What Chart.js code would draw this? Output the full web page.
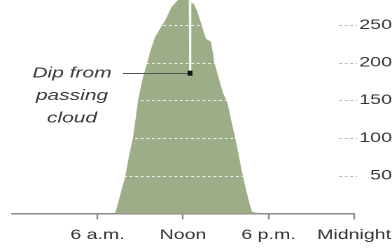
<!DOCTYPE html>
<html>
<head>
<meta charset="utf-8">
<script src="https://cdn.jsdelivr.net/npm/chart.js@4/dist/chart.umd.min.js"></script>
<style>
  html, body { margin: 0; padding: 0; background: #fff; }
  #c { display: block; }
</style>
</head>
<body>
<canvas id="c" width="280" height="249" style="width:392px;height:249px;"></canvas>
<script>
// Time of day (hours since midnight)
const hours = [0, 7.2, 7.3, 7.6, 7.93, 8.2, 8.49, 8.85, 9.15, 9.47, 9.75, 10.04, 10.45, 10.75, 11.2, 11.65, 11.9, 12.2, 12.4, 12.43, 12.55, 12.58, 12.75, 13.0, 13.3, 13.6, 13.75, 13.95, 14.05, 14.2, 14.5, 14.8, 15.1, 15.4, 15.65, 15.9, 16.15, 16.4, 16.7, 16.85, 17.0, 17.25, 17.3, 24];
// Solar output
const power = [0, 0, 4, 25, 48, 75, 101, 150, 178, 199, 218, 234, 247, 256, 274, 283, 292, 298, 296, 186, 186, 279, 278, 268, 250, 232, 230, 228, 218, 200, 180, 160, 148, 122, 101, 78, 54, 33, 11, 2, 1.5, 1, 0, 0];
const xTickValues = [0, 6, 12, 18, 24];
const xTickLabels = ['', '6 a.m.', 'Noon', '6 p.m.', 'Midnight'];
const yTickValues = [50, 100, 150, 200, 250];
const dipHour = 12.49;
const dipValue = 186;
const annotationLines = ['Dip from', 'passing', 'cloud'];

const FONT = "'Liberation Sans', Arial, Helvetica, sans-serif";

const overlay = {
  id: 'overlay',
  afterDatasetsDraw(chart) {
    const ctx = chart.ctx;
    const xs = chart.scales.x, ys = chart.scales.y;
    const area = chart.chartArea;
    ctx.save();
    ctx.setLineDash([2, 2]);
    ctx.lineWidth = 1;
    yTickValues.forEach(v => {
      const y = Math.round(ys.getPixelForValue(v)) + 0.5;
      ctx.strokeStyle = 'rgba(255,255,255,0.85)';
      ctx.beginPath();
      ctx.moveTo(area.left, y);
      ctx.lineTo(area.right, y);
      ctx.stroke();
      ctx.strokeStyle = '#b5b5b5';
      ctx.beginPath();
      ctx.moveTo(xs.getPixelForValue(22.95), y);
      ctx.lineTo(area.right + 2, y);
      ctx.stroke();
    });
    ctx.setLineDash([]);
    const px = xs.getPixelForValue(dipHour);
    const py = ys.getPixelForValue(dipValue);
    const lineStart = px - 47.9;
    ctx.strokeStyle = '#555';
    ctx.lineWidth = 1;
    ctx.beginPath();
    ctx.moveTo(lineStart, Math.round(py) + 0.5);
    ctx.lineTo(px, Math.round(py) + 0.5);
    ctx.stroke();
    ctx.fillStyle = '#111';
    ctx.fillRect(px - 1.75, py - 2.5, 3.5, 5);
    ctx.font = 'italic 15px ' + FONT;
    ctx.fillStyle = '#3a3a3a';
    ctx.textAlign = 'center';
    ctx.textBaseline = 'middle';
    const tx = lineStart - 36.4;
    annotationLines.forEach((t, i) => ctx.fillText(t, tx, py + i * 22.5));
    ctx.restore();
  }
};

new Chart(document.getElementById('c'), {
  type: 'line',
  data: {
    datasets: [{
      data: hours.map((h, i) => ({ x: h, y: power[i] })),
      fill: 'origin',
      backgroundColor: '#9cad87',
      borderWidth: 0,
      pointRadius: 0,
      tension: 0
    }]
  },
  options: {
    responsive: false,
    animation: false,
    devicePixelRatio: 2,
    layout: { padding: { left: 8.57, right: 0, top: 0, bottom: 0 } },
    plugins: { legend: { display: false }, tooltip: { enabled: false } },
    scales: {
      x: {
        type: 'linear',
        min: 0, max: 24,
        afterBuildTicks: s => { s.ticks = xTickValues.map(v => ({ value: v })); },
        afterFit: s => { s.height = 35.5; s.paddingLeft = 0; s.paddingRight = 0; },
        border: { color: '#8a8a8a', width: 1.5 },
        grid: {
          drawOnChartArea: false,
          drawTicks: true,
          tickLength: 6,
          tickWidth: 1.2,
          tickColor: c => (c.tick && c.tick.value === 0) ? 'rgba(0,0,0,0)' : '#8a8a8a'
        },
        ticks: {
          autoSkip: false,
          maxRotation: 0,
          padding: 7,
          color: '#333',
          font: { family: FONT, size: 14 },
          callback: (v) => xTickLabels[xTickValues.indexOf(v)] ?? ''
        }
      },
      y: {
        position: 'right',
        min: 0, max: 283,
        afterBuildTicks: s => { s.ticks = yTickValues.map(v => ({ value: v })); },
        afterFit: s => { s.width = 27.1; s.paddingTop = 0; s.paddingBottom = 0; },
        border: { display: false },
        grid: { display: false, drawTicks: false },
        ticks: {
          crossAlign: 'far',
          padding: 2.3,
          color: '#333',
          font: { family: FONT, size: 14 }
        }
      }
    }
  },
  plugins: [overlay]
});
</script>
</body>
</html>
